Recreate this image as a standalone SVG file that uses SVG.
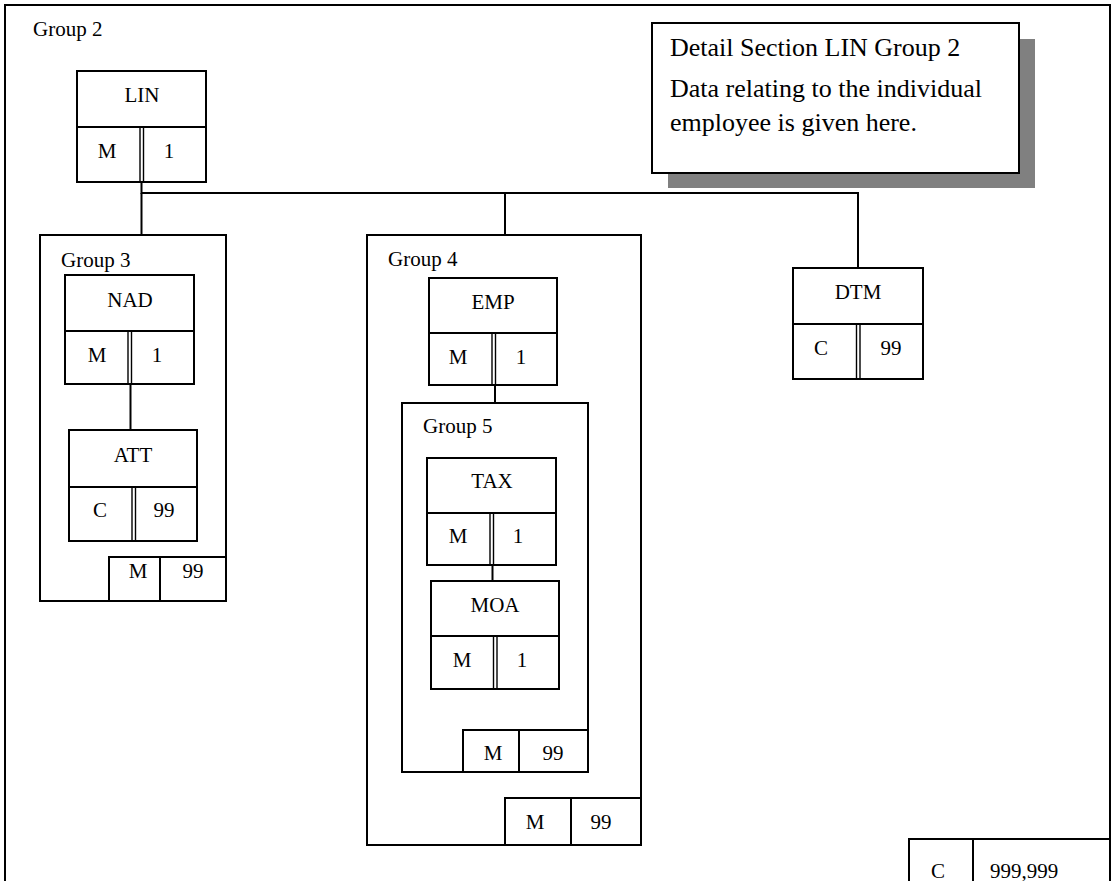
<svg xmlns="http://www.w3.org/2000/svg" width="1111" height="881" viewBox="0 0 1111 881">
<style>
.b{fill:#fff;stroke:#000;stroke-width:2}
.g{fill:none;stroke:#000;stroke-width:2}
.l{stroke:#000;stroke-width:2;fill:none}
.d{stroke:#000;stroke-width:1.4;fill:none}
text{font-family:"Liberation Serif","Times New Roman",serif;font-size:21px;fill:#000}
.c{text-anchor:middle}
.big{font-size:26px}
</style>
<rect width="1111" height="881" fill="#fff"/>
<g id="frame">
<path class="l" d="M5,900 V5 H1110 V900"/>
<text x="33" y="36">Group 2</text>
</g>
<g id="note">
<rect x="668" y="39" width="367" height="149" fill="#808080"/>
<rect class="b" x="652" y="23" width="367" height="150"/>
<text class="big" x="670" y="56">Detail Section LIN Group 2</text>
<text class="big" x="670" y="97">Data relating to the individual</text>
<text class="big" x="670" y="131">employee is given here.</text>
</g>
<g id="connectors">
<path class="l" d="M141.5,182 V193 H858 V268"/>
<path class="l" d="M141.5,193 V235"/>
<path class="l" d="M505,193 V235"/>
<path class="l" d="M130.5,384 V430"/>
<path class="l" d="M495,385 V403"/>
<path class="l" d="M492.5,565 V581"/>
</g>
<g id="LIN">
<rect class="b" x="77" y="71" width="129" height="111"/>
<path class="l" d="M77,127 H206"/>
<path class="d" d="M140,127 V182 M143.5,127 V182"/>
<text class="c" x="142" y="102">LIN</text>
<text class="c" x="107" y="158">M</text>
<text class="c" x="169" y="158">1</text>
</g>
<g id="group3">
<rect class="g" x="40" y="235" width="186" height="366"/>
<text x="61" y="267">Group 3</text>
<rect class="b" x="109" y="557" width="117" height="44"/>
<path class="l" d="M160,557 V601"/>
<text class="c" x="138" y="578">M</text>
<text class="c" x="193" y="578">99</text>
</g>
<g id="NAD">
<rect class="b" x="65" y="275" width="129" height="109"/>
<path class="l" d="M65,331 H194"/>
<path class="d" d="M128,331 V384 M131.5,331 V384"/>
<text class="c" x="130" y="307">NAD</text>
<text class="c" x="97" y="362">M</text>
<text class="c" x="157" y="362">1</text>
</g>
<g id="ATT">
<rect class="b" x="69" y="430" width="128" height="111"/>
<path class="l" d="M69,487 H197"/>
<path class="d" d="M132,487 V541 M135.5,487 V541"/>
<text class="c" x="133" y="462">ATT</text>
<text class="c" x="100" y="517">C</text>
<text class="c" x="164" y="517">99</text>
</g>
<g id="group4">
<rect class="g" x="367" y="235" width="274" height="610"/>
<text x="388" y="266">Group 4</text>
<rect class="b" x="505" y="798" width="136" height="47"/>
<path class="l" d="M571,798 V845"/>
<text class="c" x="535" y="829">M</text>
<text class="c" x="601" y="829">99</text>
</g>
<g id="EMP">
<rect class="b" x="429" y="278" width="128" height="107"/>
<path class="l" d="M429,333 H557"/>
<path class="d" d="M492,333 V385 M495.5,333 V385"/>
<text class="c" x="493" y="309">EMP</text>
<text class="c" x="458" y="364">M</text>
<text class="c" x="521" y="364">1</text>
</g>
<g id="group5">
<rect class="g" x="402" y="403" width="186" height="369"/>
<text x="423" y="433">Group 5</text>
<rect class="b" x="463" y="730" width="125" height="42"/>
<path class="l" d="M519,730 V772"/>
<text class="c" x="493" y="760">M</text>
<text class="c" x="553" y="760">99</text>
</g>
<g id="TAX">
<rect class="b" x="427" y="458" width="129" height="107"/>
<path class="l" d="M427,513 H556"/>
<path class="d" d="M490,513 V565 M493.5,513 V565"/>
<text class="c" x="492" y="488">TAX</text>
<text class="c" x="458" y="543">M</text>
<text class="c" x="518" y="543">1</text>
</g>
<g id="MOA">
<rect class="b" x="431" y="581" width="128" height="108"/>
<path class="l" d="M431,636 H559"/>
<path class="d" d="M493.5,636 V689 M497,636 V689"/>
<text class="c" x="495" y="612">MOA</text>
<text class="c" x="462" y="667">M</text>
<text class="c" x="522" y="667">1</text>
</g>
<g id="DTM">
<rect class="b" x="793" y="268" width="130" height="111"/>
<path class="l" d="M793,324 H923"/>
<path class="d" d="M856.5,324 V379 M860,324 V379"/>
<text class="c" x="858" y="299">DTM</text>
<text class="c" x="821" y="355">C</text>
<text class="c" x="891" y="355">99</text>
</g>
<g id="total">
<rect class="b" x="909" y="839" width="201" height="70"/>
<path class="l" d="M973,839 V909"/>
<text class="c" x="938" y="878">C</text>
<text x="990" y="878">999,999</text>
</g>
</svg>
